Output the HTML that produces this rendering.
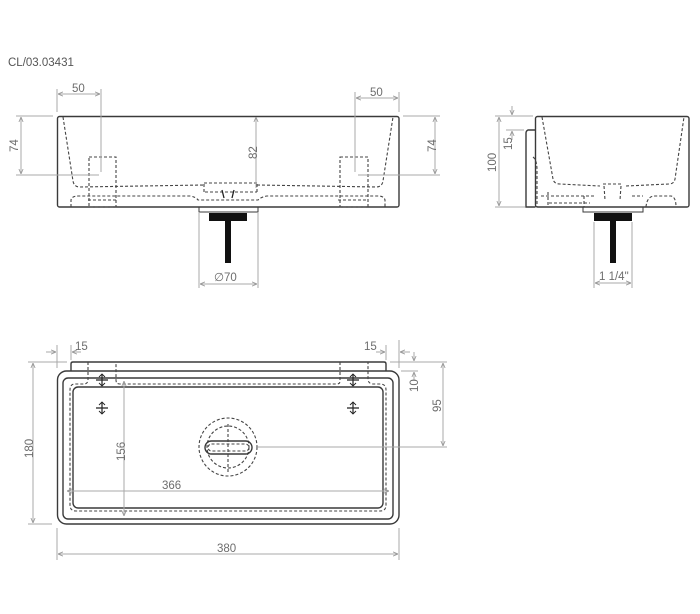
<!DOCTYPE html>
<html><head><meta charset="utf-8"><style>
html,body{margin:0;padding:0;background:#fff;}
svg{display:block;}
text{font-family:"Liberation Sans",sans-serif;fill:#6d6d6d;font-size:11.5px;}
.o{fill:none;stroke:#3a3a3a;stroke-width:1.4;}
.d{fill:none;stroke:#444;stroke-width:1.1;stroke-dasharray:3,2;}
.m{fill:none;stroke:#a8a8a8;stroke-width:1;}
.b{fill:#111;}
</style></head><body>
<svg width="700" height="614" viewBox="0 0 700 614" xmlns="http://www.w3.org/2000/svg">
<defs>
<marker id="a" viewBox="0 0 6 6" refX="6" refY="3" markerWidth="5" markerHeight="5" orient="auto-start-reverse"><path d="M0,0.5 L6,3 L0,5.5" fill="none" stroke="#999" stroke-width="1"/></marker>
</defs>
<text x="8" y="66" style="font-size:11.5px;fill:#555">CL/03.03431</text>

<!-- FRONT VIEW -->
<rect class="o" x="57.5" y="116.5" width="341.5" height="90.5" rx="2"/>
<rect class="o" x="199" y="207" width="59" height="5" style="stroke-width:1"/>
<rect class="b" x="209" y="213" width="38" height="8"/>
<rect class="b" x="225" y="221" width="6" height="42"/>
<path class="d" d="M63,117 L73,181 Q74,187 80,187 L204,185 M257,185 L376,187 Q382,187 383,181 L393,117"/>
<path class="d" d="M204,184 L204,192 M257,184 L257,192 M204,183 L257,183"/>
<path class="d" d="M71,207 L71,200 Q72,196 78,196 L190,196 Q196,197 198,200 L258,200 Q261,197 267,196 L378,196 Q384,196 385,200 L385,207"/>
<path class="d" d="M205,192 L257,192 M88,200 L118,200 M338,200 L368,200"/>
<rect class="d" x="89" y="157" width="27" height="50"/>
<rect class="d" x="340" y="157" width="28" height="50"/>
<path d="M222,190 L224,198 M234,190 L232,198" stroke="#222" stroke-width="1.3"/>
<!-- dims front -->
<line class="m" x1="57" y1="89" x2="57" y2="112"/><line class="m" x1="101" y1="89" x2="101" y2="172"/>
<line class="m" x1="58" y1="94" x2="100" y2="94" marker-start="url(#a)" marker-end="url(#a)"/>
<text x="72" y="92">50</text>
<line class="m" x1="355" y1="92" x2="355" y2="172"/><line class="m" x1="399" y1="92" x2="399" y2="112"/>
<line class="m" x1="356" y1="98" x2="398" y2="98" marker-start="url(#a)" marker-end="url(#a)"/>
<text x="370" y="96">50</text>
<line class="m" x1="16" y1="116" x2="53" y2="116"/><line class="m" x1="16" y1="175" x2="99" y2="175"/>
<line class="m" x1="21" y1="117" x2="21" y2="174" marker-start="url(#a)" marker-end="url(#a)"/>
<text transform="translate(18,152) rotate(-90)">74</text>
<line class="m" x1="403" y1="116" x2="440" y2="116"/><line class="m" x1="358" y1="175" x2="440" y2="175"/>
<line class="m" x1="435" y1="117" x2="435" y2="174" marker-start="url(#a)" marker-end="url(#a)"/>
<text transform="translate(436,152) rotate(-90)">74</text>
<line class="m" x1="256" y1="117" x2="256" y2="188" marker-start="url(#a)"/>
<text transform="translate(257,159) rotate(-90)">82</text>
<line class="m" x1="199" y1="212" x2="199" y2="288"/><line class="m" x1="258" y1="212" x2="258" y2="288"/>
<line class="m" x1="200" y1="284" x2="257" y2="284" marker-start="url(#a)" marker-end="url(#a)"/>
<text x="214" y="281">∅70</text>

<!-- SIDE VIEW -->
<rect class="o" x="535.5" y="116.5" width="153.5" height="90.5" rx="2"/>
<path class="o" d="M535.5,130 L528,130 Q526,131 526,133 L526,207 L535.5,207"/>
<rect class="o" x="583" y="207" width="60" height="5" style="stroke-width:1"/>
<rect class="b" x="594" y="213" width="38" height="8"/>
<rect class="b" x="610" y="221" width="6" height="42"/>
<path class="d" d="M542,117 L553,179 Q554,184 560,184 L600,186 M626,186 L669,184 Q674,184 675,179 L684,117"/>
<path class="d" d="M604,186 L605,200 M621,186 L620,200 M603,184 L623,184"/>
<path class="d" d="M533,157 Q537,160 537,170 L537,207 M541,196 L596,196 M549,203 L590,203 M632,196 L643,196 M646,207 Q647,196 655,196 L671,196 Q676,197 676,207 M548,192 L548,207 M584,196 L584,207"/>
<line class="m" x1="495" y1="116" x2="533" y2="116"/><line class="m" x1="495" y1="207" x2="525" y2="207"/>
<line class="m" x1="499" y1="117" x2="499" y2="206" marker-start="url(#a)" marker-end="url(#a)"/>
<text transform="translate(496,172) rotate(-90)">100</text>
<line class="m" x1="506" y1="130" x2="524" y2="130"/>
<line class="m" x1="512" y1="106" x2="512" y2="115" marker-end="url(#a)"/>
<line class="m" x1="512" y1="140" x2="512" y2="131" marker-end="url(#a)"/>
<text transform="translate(512,150) rotate(-90)">15</text>
<line class="m" x1="594" y1="222" x2="594" y2="288"/><line class="m" x1="632" y1="222" x2="632" y2="288"/>
<line class="m" x1="595" y1="283" x2="631" y2="283" marker-start="url(#a)" marker-end="url(#a)"/>
<text x="599" y="280">1 1/4"</text>

<!-- TOP VIEW -->
<path class="o" d="M71,371 L71,364 Q71,362 73,362 L384,362 Q386,362 386,364 L386,371"/>
<rect class="o" x="57.5" y="371" width="341.5" height="153" rx="9"/>
<rect class="o" x="63" y="378" width="330" height="141" rx="5"/>
<rect class="o" x="73" y="387" width="310" height="121" rx="5"/>
<path class="d" d="M88,362 L88,381 Q87,384 84,384 L75,384 Q70,384 70,390 L70,505 Q70,511 76,511 L380,511 Q386,511 386,505 L386,390 Q386,384 380,384 L372,384 Q368,383 368,379 L368,362 M340,362 L340,381 Q340,384 337,384 L120,384 Q116,384 116,380 L116,362"/>
<g stroke="#222" stroke-width="1.2" fill="none">
<path d="M96,380 h12 M102,374 v12 M96,408 h12 M102,402 v12 M347,380 h12 M353,374 v12 M347,408 h12 M353,402 v12"/>
<path d="M99,377 L102,374 L105,377 M99,383 L102,386 L105,383 M99,405 L102,402 L105,405 M99,411 L102,414 L105,411 M350,377 L353,374 L356,377 M350,383 L353,386 L356,383 M350,405 L353,402 L356,405 M350,411 L353,414 L356,411" stroke-width="0.9"/>
</g>
<circle class="d" cx="228" cy="447" r="29"/>
<circle class="d" cx="228" cy="447" r="21"/>
<rect class="o" x="205" y="441" width="47" height="13" rx="6.5"/>
<rect class="d" x="208" y="444" width="41" height="7" rx="3.5"/>
<path class="d" d="M228,424 L228,472"/>
<!-- dims top -->
<line class="m" x1="28" y1="362" x2="67" y2="362"/><line class="m" x1="28" y1="524" x2="52" y2="524"/>
<line class="m" x1="33" y1="363" x2="33" y2="523" marker-start="url(#a)" marker-end="url(#a)"/>
<text transform="translate(33,458) rotate(-90)">180</text>
<line class="m" x1="124" y1="381" x2="124" y2="516" marker-start="url(#a)" marker-end="url(#a)"/>
<text transform="translate(125,461) rotate(-90)">156</text>
<line class="m" x1="67" y1="491" x2="389" y2="491" marker-start="url(#a)" marker-end="url(#a)"/>
<text x="162" y="489">366</text>
<line class="m" x1="57" y1="528" x2="57" y2="560"/><line class="m" x1="399" y1="528" x2="399" y2="560"/>
<line class="m" x1="58" y1="554" x2="398" y2="554" marker-start="url(#a)" marker-end="url(#a)"/>
<text x="217" y="552">380</text>
<line class="m" x1="57" y1="345" x2="57" y2="368"/><line class="m" x1="71" y1="345" x2="71" y2="360"/>
<line class="m" x1="46" y1="352" x2="56" y2="352" marker-end="url(#a)"/>
<line class="m" x1="81" y1="352" x2="72" y2="352" marker-end="url(#a)"/>
<text x="75" y="350">15</text>
<line class="m" x1="386" y1="345" x2="386" y2="360"/><line class="m" x1="399" y1="340" x2="399" y2="368"/>
<line class="m" x1="376" y1="352" x2="385" y2="352" marker-end="url(#a)"/>
<line class="m" x1="410" y1="352" x2="400" y2="352" marker-end="url(#a)"/>
<text x="364" y="350">15</text>
<line class="m" x1="390" y1="362" x2="447" y2="362"/><line class="m" x1="401" y1="371" x2="418" y2="371"/>
<line class="m" x1="414" y1="352" x2="414" y2="361" marker-end="url(#a)"/>
<line class="m" x1="414" y1="380" x2="414" y2="372" marker-end="url(#a)"/>
<text transform="translate(418,392) rotate(-90)">10</text>
<line class="m" x1="258" y1="447" x2="447" y2="447"/>
<line class="m" x1="443" y1="363" x2="443" y2="446" marker-start="url(#a)" marker-end="url(#a)"/>
<text transform="translate(441,412) rotate(-90)">95</text>
</svg>
</body></html>
